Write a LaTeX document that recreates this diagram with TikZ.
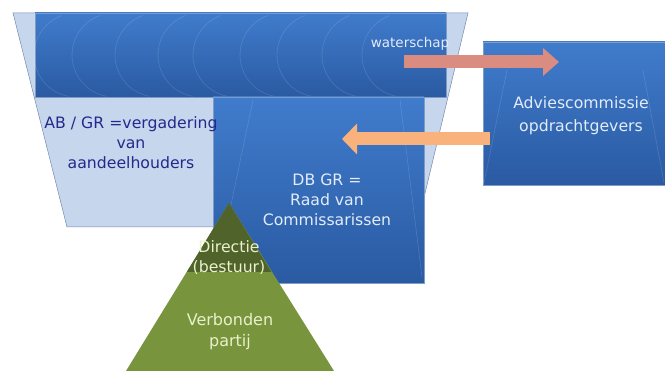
\documentclass[tikz,border=0pt]{standalone}
\usepackage{fontspec}
\setmainfont{DejaVu Sans}
\usetikzlibrary{arrows.meta}
\definecolor{funnel}{RGB}{198,214,237}
\definecolor{funnelline}{RGB}{118,136,176}
\definecolor{blueTop}{RGB}{64,124,204}
\definecolor{blueBot}{RGB}{42,90,162}
\definecolor{darkgreen}{RGB}{80,99,42}
\definecolor{lightgreen}{RGB}{120,148,60}
\definecolor{salmon}{RGB}{219,140,128}
\definecolor{peach}{RGB}{249,178,124}
\definecolor{navytext}{RGB}{38,40,140}
\definecolor{pale}{RGB}{226,236,250}
\definecolor{cream}{RGB}{234,240,204}

\begin{document}
\begin{tikzpicture}[x=1pt,y=-1pt,
  blok/.style={top color=blueTop, bottom color=blueBot, draw=blueBot!60!white, line width=0.4pt},
  faint/.style={draw=white, opacity=0.14, line width=0.6pt},
  pijl/.style={line width=13pt, -{Triangle[width=27pt,length=16pt]}},
  txt/.style={align=center, inner sep=0pt, font=\fontsize{15.7}{20}\selectfont}]

  \useasboundingbox (0,0) rectangle (665,371);

  % funnel
  \draw[fill=funnel, draw=funnelline, line width=0.5pt] (13,13) -- (468,13) -- (417,227) -- (67,227) -- cycle;

  % waterschap band
  \draw[blok] (35,13) rectangle (446,97);
  \foreach \a in {34,72,115,158,193,240,277,322,362}
    \draw[faint] (\a+42,55) ++(250:42) arc[start angle=250, end angle=100, radius=42];

  % DB GR
  \draw[blok] (213,97) rectangle (424,283);
  \draw[faint] (253,100) -- (215,281);
  \draw[faint] (400,100) -- (422,277);

  % adviescommissie
  \draw[blok] (483,42) rectangle (666,185);
  \draw[faint] (507,70) -- (484,183);
  \draw[faint] (643,70) -- (664,183);

  % arrows
  \coordinate (salS) at (404,62);
  \coordinate (salE) at (559,62);
  \coordinate (peaS) at (490,139);
  \coordinate (peaE) at (342,139);
  \draw[pijl, draw=salmon, fill=salmon] (salS) -- (salE); %% waterschap -> advies
  \draw[pijl, draw=peach, fill=peach, -{Triangle[width=30pt,length=15pt]}] (peaS) -- (peaE); %% advies -> DB

  % verbonden partij
  \fill[lightgreen] (229,203) -- (126,371) -- (334,371) -- cycle;
  \fill[darkgreen] (229,203) -- (186.8,272) -- (271.4,272) -- cycle;

  \node[txt, text=navytext] (ab) at (131,143) {AB / GR =vergadering\\van\\aandeelhouders};
  \node[txt, text=pale] (db) at (327,200) {DB GR =\\Raad van\\Commissarissen};
  \node[txt, text=pale, font=\fontsize{13.5}{16}\selectfont] (ws) at (410,44) {waterschap};
  \node[txt, text=pale, font=\fontsize{15.7}{23}\selectfont] (advies) at (581,116) {Adviescommissie\\opdrachtgevers};
  \node[txt, text=cream] (dir) at (229,258) {Directie\\(bestuur)};
  \node[txt, text=cream, font=\fontsize{16}{21}\selectfont] (vp) at (230,332) {Verbonden\\partij};
\end{tikzpicture}
\end{document}
